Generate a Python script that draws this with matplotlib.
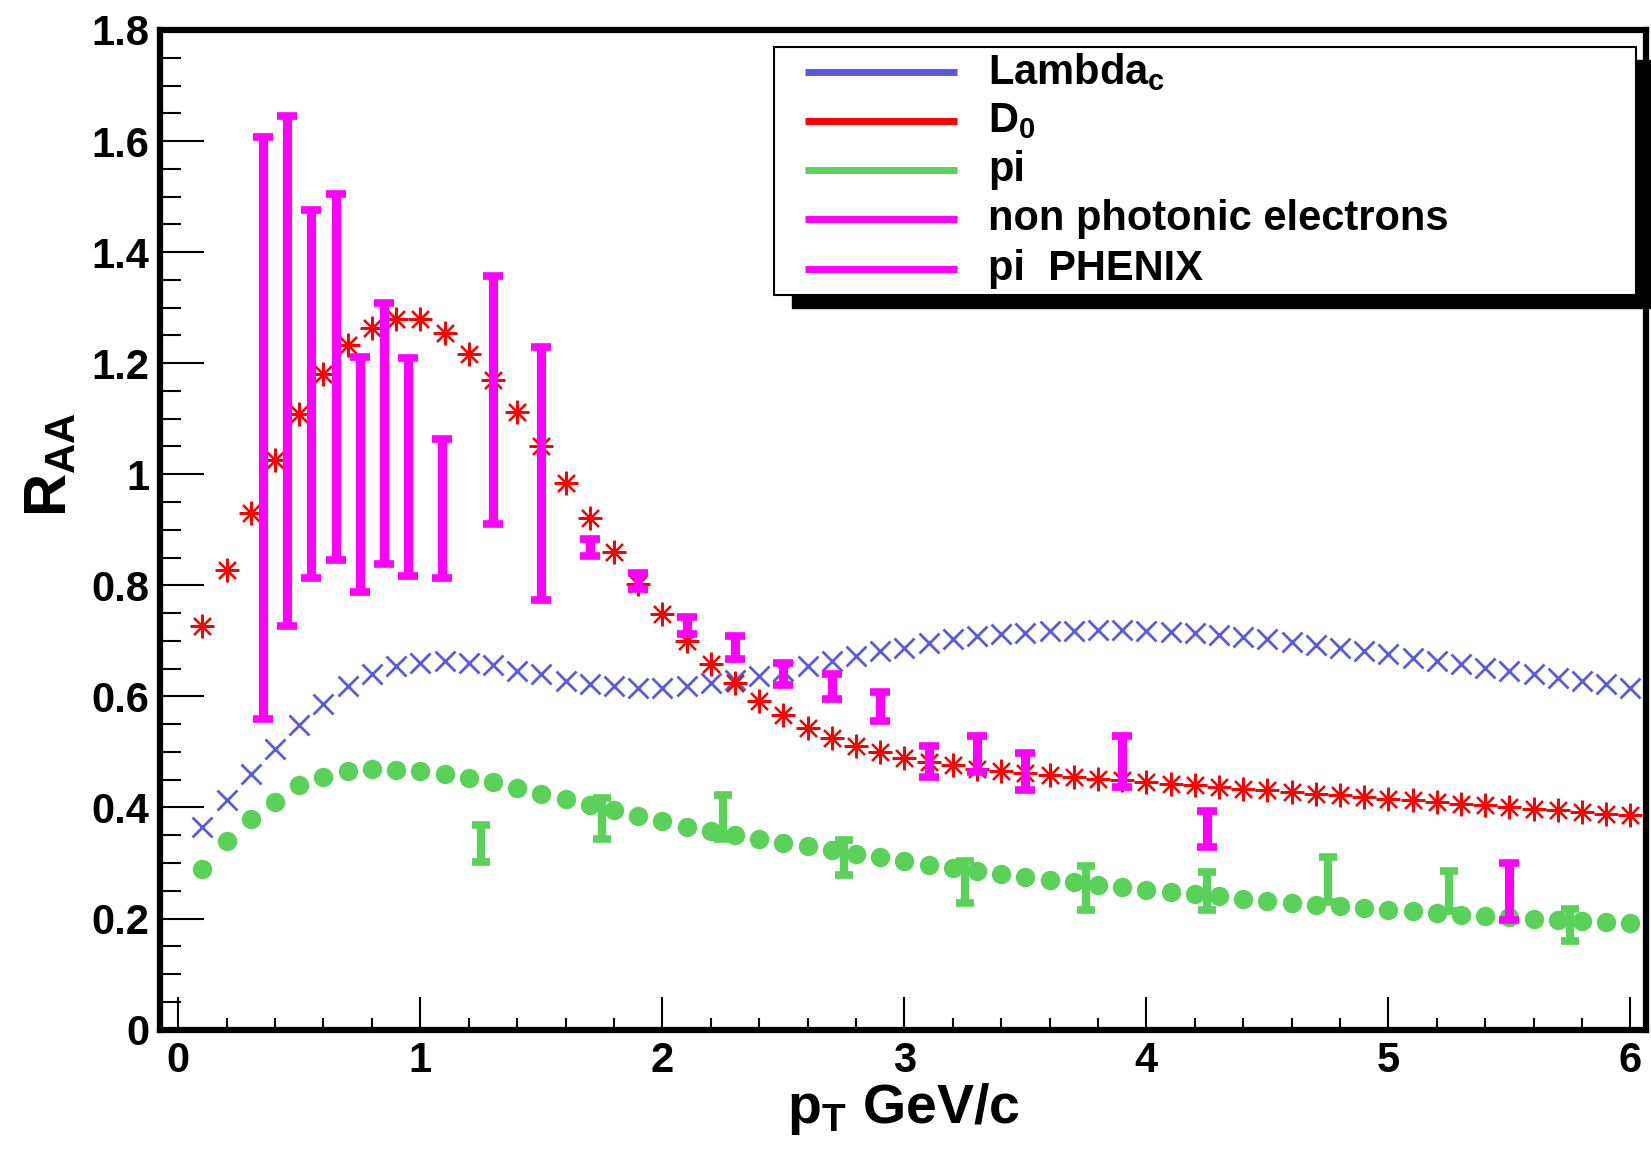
import numpy as np
import matplotlib
matplotlib.use('Agg')
import matplotlib.pyplot as plt
from matplotlib.patches import Rectangle
from matplotlib.ticker import MultipleLocator

plt.rcParams['font.family'] = 'Liberation Sans'
plt.rcParams['font.weight'] = 'bold'
plt.rcParams['axes.labelweight'] = 'bold'
plt.rcParams['mathtext.fontset'] = 'custom'
plt.rcParams['mathtext.rm'] = 'Liberation Sans:bold'
plt.rcParams['mathtext.it'] = 'Liberation Sans:bold'
plt.rcParams['mathtext.bf'] = 'Liberation Sans:bold'

# model curves on a 0.1 GeV/c grid
pt = np.round(np.arange(0.1, 6.01, 0.1), 1)
raa_lambdac = [0.364, 0.413, 0.460, 0.506, 0.548, 0.587, 0.618, 0.640, 0.654, 0.661,
               0.663, 0.661, 0.657, 0.645, 0.640, 0.628, 0.623, 0.619, 0.616, 0.616,
               0.618, 0.624, 0.629, 0.636, 0.645, 0.654, 0.663, 0.672, 0.681, 0.688,
               0.696, 0.703, 0.708, 0.712, 0.715, 0.717, 0.718, 0.719, 0.719, 0.718,
               0.716, 0.714, 0.711, 0.707, 0.703, 0.698, 0.693, 0.688, 0.682, 0.676,
               0.670, 0.664, 0.658, 0.652, 0.646, 0.640, 0.634, 0.628, 0.622, 0.616]
raa_d0 = [0.727, 0.828, 0.930, 1.025, 1.108, 1.180, 1.232, 1.264, 1.279, 1.280,
          1.254, 1.216, 1.169, 1.112, 1.050, 0.985, 0.922, 0.860, 0.803, 0.749,
          0.700, 0.659, 0.624, 0.592, 0.566, 0.544, 0.526, 0.511, 0.500, 0.490,
          0.482, 0.476, 0.470, 0.466, 0.462, 0.458, 0.455, 0.452, 0.449, 0.446,
          0.443, 0.440, 0.437, 0.434, 0.431, 0.428, 0.425, 0.422, 0.419, 0.416,
          0.413, 0.410, 0.407, 0.404, 0.401, 0.398, 0.395, 0.392, 0.389, 0.386]
raa_pi = [0.290, 0.340, 0.380, 0.410, 0.440, 0.455, 0.465, 0.470, 0.468, 0.465,
          0.460, 0.453, 0.445, 0.435, 0.425, 0.415, 0.405, 0.395, 0.385, 0.375,
          0.365, 0.357, 0.350, 0.343, 0.336, 0.330, 0.323, 0.316, 0.310, 0.303,
          0.297, 0.291, 0.286, 0.280, 0.275, 0.270, 0.265, 0.260, 0.256, 0.252,
          0.248, 0.244, 0.240, 0.236, 0.232, 0.228, 0.225, 0.222, 0.219, 0.216,
          0.213, 0.210, 0.207, 0.205, 0.202, 0.200, 0.198, 0.196, 0.194, 0.192]

# non photonic electrons
npe_pt = [0.35, 0.45, 0.55, 0.65, 0.75, 0.85, 0.95, 1.09, 1.3, 1.5, 1.7, 1.9,
          2.1, 2.3, 2.5, 2.7, 2.9, 3.1, 3.3, 3.5, 3.9, 4.25, 5.5]
npe_raa = [1.083, 1.186, 1.145, 1.175, 1.000, 1.074, 1.013, 0.938, 1.134, 1.001, 0.868, 0.808,
           0.728, 0.688, 0.641, 0.618, 0.582, 0.482, 0.496, 0.465, 0.482, 0.361, 0.249]
npe_err = [0.524, 0.460, 0.331, 0.330, 0.212, 0.235, 0.196, 0.125, 0.223, 0.228, 0.015, 0.015,
           0.015, 0.020, 0.020, 0.022, 0.026, 0.028, 0.032, 0.034, 0.046, 0.033, 0.051]

# pi PHENIX
phx_pt = [1.25, 1.75, 2.25, 2.75, 3.25, 3.75, 4.25, 4.75, 5.25, 5.75]
phx_raa = [0.335, 0.380, 0.383, 0.310, 0.266, 0.255, 0.250, 0.270, 0.250, 0.188]
phx_err = [0.033, 0.037, 0.039, 0.032, 0.038, 0.039, 0.034, 0.041, 0.036, 0.029]

labels = ['Lambda$_{c}$', 'D$_{0}$', 'pi', 'non photonic electrons', 'pi  PHENIX']

c_blue = '#5a5adc'
c_red = '#ff0000'
c_green = '#5ad25a'
c_mag = '#ff00ff'

fig = plt.figure(figsize=(16.51, 11.53), dpi=100)
ax = fig.add_axes([0.097, 0.107, 0.900, 0.867])

ax.plot(pt, raa_lambdac, linestyle='none', marker='x', markersize=14.5,
        markeredgewidth=2.0, color=c_blue, zorder=2)
ax.plot(pt, raa_d0, linestyle='none', marker=(8, 2, 0), markersize=17,
        markeredgewidth=1.6, color=c_red, zorder=3)
ax.plot(pt, raa_pi, linestyle='none', marker='o', markersize=14,
        markeredgewidth=0, color=c_green, zorder=3)
ax.errorbar(phx_pt, phx_raa, yerr=phx_err, fmt='none', ecolor=c_green,
            elinewidth=6, capsize=6.5, capthick=5.5, zorder=4)
ax.errorbar(npe_pt, npe_raa, yerr=npe_err, fmt='none', ecolor=c_mag,
            elinewidth=6.5, capsize=7, capthick=5.5, zorder=5)

ax.set_xlim(-0.075, 6.065)
ax.set_ylim(0, 1.8)
ax.xaxis.set_major_locator(MultipleLocator(1))
ax.xaxis.set_minor_locator(MultipleLocator(0.2))
ax.yaxis.set_minor_locator(MultipleLocator(0.05))
ax.set_yticks(np.arange(0, 1.81, 0.2))
ax.set_yticklabels(['0', '0.2', '0.4', '0.6', '0.8', '1', '1.2', '1.4', '1.6', '1.8'])
ax.tick_params(which='both', direction='in', top=False, right=False, width=1.5, labelsize=30)
ax.tick_params(axis='x', which='major', length=24, pad=8)
ax.tick_params(axis='x', which='minor', length=9)
ax.tick_params(axis='y', which='major', length=32, pad=8)
ax.tick_params(axis='y', which='minor', length=15)
for s in ax.spines.values():
    s.set_linewidth(4.5)

ax.set_xlabel(r'p$_{T}$ GeV/c', fontsize=40, labelpad=0)
ax.set_ylabel(r'R$_{AA}$', fontsize=43)
ax.yaxis.set_label_coords(-0.055, 0.565)

# legend box with a solid drop shadow
x0, x1, yb, yt = 0.413, 0.993, 0.7345, 0.9825
ax.add_patch(Rectangle((x0 + 0.012, yb - 0.013), x1 - x0, yt - yb, transform=ax.transAxes,
                       facecolor='black', edgecolor='black', zorder=10, clip_on=False))
ax.add_patch(Rectangle((x0, yb), x1 - x0, yt - yb, transform=ax.transAxes,
                       facecolor='white', edgecolor='black', linewidth=1.5, zorder=11,
                       clip_on=False))
leg_colors = [c_blue, c_red, c_green, c_mag, c_mag]
leg_y = [0.958, 0.9085, 0.86, 0.8105, 0.761]
for lab, col, yy in zip(labels, leg_colors, leg_y):
    ax.plot([0.434, 0.536], [yy, yy], color=col, linewidth=5, transform=ax.transAxes,
            zorder=12, solid_capstyle='butt', clip_on=False)
    ax.text(0.557, yy, lab, transform=ax.transAxes, fontsize=30, va='center', ha='left',
            zorder=12)

fig.savefig('out.png', dpi=100)
